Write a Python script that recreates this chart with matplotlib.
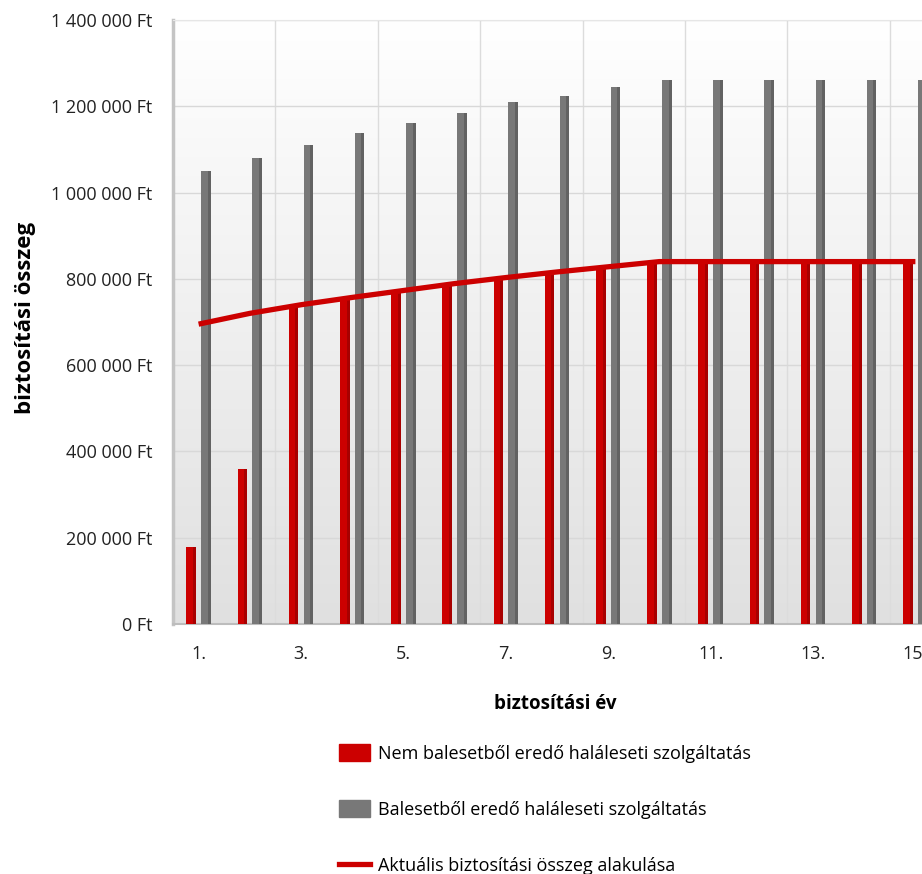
import numpy as np
import matplotlib.pyplot as plt
from matplotlib.ticker import FuncFormatter
from matplotlib.patches import Patch
from matplotlib.lines import Line2D

plt.rcParams['font.family'] = ['Open Sans', 'DejaVu Sans']

# adatok
years = list(range(1, 16))
nem_baleset = [178000, 360000, 740000, 757000, 773000, 789000, 803000, 816000,
               828000, 840000, 840000, 840000, 840000, 840000, 840000]
baleset = [1050000, 1080000, 1110000, 1137000, 1162000, 1185000, 1210000, 1225000,
           1245000, 1262000, 1262000, 1262000, 1262000, 1262000, 1262000]
aktualis = [695000, 720000, 740000, 757000, 773000, 789000, 803000, 816000,
            828000, 840000, 840000, 840000, 840000, 840000, 840000]
xtick_years = [1, 3, 5, 7, 9, 11, 13, 15]
xtick_labels = ['1.', '3.', '5.', '7.', '9.', '11.', '13.', '15.']

lab_nem = 'Nem balesetből eredő haláleseti szolgáltatás'
lab_bal = 'Balesetből eredő haláleseti szolgáltatás'
lab_akt = 'Aktuális biztosítási összeg alakulása'

red = '#cc0000'
red_dark = '#a80000'
grey = '#787878'
grey_dark = '#626262'

fig = plt.figure(figsize=(9.22, 8.74), dpi=100)
ax = fig.add_axes([173/922, 1 - 624/874, 768/922, 604/874])

# hatter szinatmenet
grad = np.linspace(0, 1, 256).reshape(-1, 1)
ax.imshow(grad, extent=[0, 1, 0, 1], transform=ax.transAxes, aspect='auto',
          cmap=plt.matplotlib.colors.LinearSegmentedColormap.from_list('bg', ['#e0e0e0', '#ffffff']),
          origin='lower', zorder=0)

x = np.array(years)
w = 0.19
off = 0.145
ax.bar(x - off, nem_baleset, width=w, color=red, zorder=3)
ax.bar(x - off + w/2 - 0.03, nem_baleset, width=0.06, color=red_dark, zorder=3)
ax.bar(x + off, baleset, width=w, color=grey, zorder=3)
ax.bar(x + off + w/2 - 0.03, baleset, width=0.06, color=grey_dark, zorder=3)
ax.plot(x, aktualis, color=red, lw=3.8, zorder=4, solid_capstyle='butt')

ax.set_xlim(0.5, 15.5)
ax.set_ylim(0, 1400000)
ax.set_yticks(range(0, 1400001, 200000))
ax.yaxis.set_major_formatter(FuncFormatter(lambda v, p: f'{v:,.0f}'.replace(',', ' ') + ' Ft'))
ax.set_xticks(xtick_years)
ax.set_xticklabels(xtick_labels)
ax.set_xticks(np.arange(0.5, 16, 2), minor=True)
ax.tick_params(axis='both', which='both', length=0, labelsize=13, colors='#222222')
ax.tick_params(axis='y', pad=15)
ax.tick_params(axis='x', pad=15)

ax.grid(axis='y', color='#d8d8d8', lw=1, zorder=1)
ax.grid(axis='x', which='minor', color='#dcdcdc', lw=1, zorder=1)
ax.set_axisbelow(True)

ax.spines['left'].set_color('#c4c4c4')
ax.spines['left'].set_linewidth(2.5)
ax.spines['bottom'].set_color('#bdbdbd')
ax.spines['bottom'].set_linewidth(1.5)
ax.spines['top'].set_color('#e6e6e6')
ax.spines['right'].set_visible(False)

fig.text(555/922, 1 - 704/874, 'biztosítási év', ha='center', va='center',
         fontsize=13.5, fontweight='bold')
fig.text(26/922, 1 - 318/874, 'biztosítási összeg', ha='center', va='center',
         rotation=90, fontsize=16, fontweight='bold')

handles = [Patch(color=red, label=lab_nem),
           Patch(color=grey, label=lab_bal),
           Line2D([0], [0], color=red, lw=3.8, label=lab_akt)]
fig.legend(handles=handles, loc='upper left', bbox_to_anchor=(339/922, 1 - 744/874),
           frameon=False, fontsize=13, borderpad=0, borderaxespad=0,
           handlelength=1.7, handleheight=1.05, handletextpad=0.45, labelspacing=2.1)

fig.savefig('out.png', dpi=100)
